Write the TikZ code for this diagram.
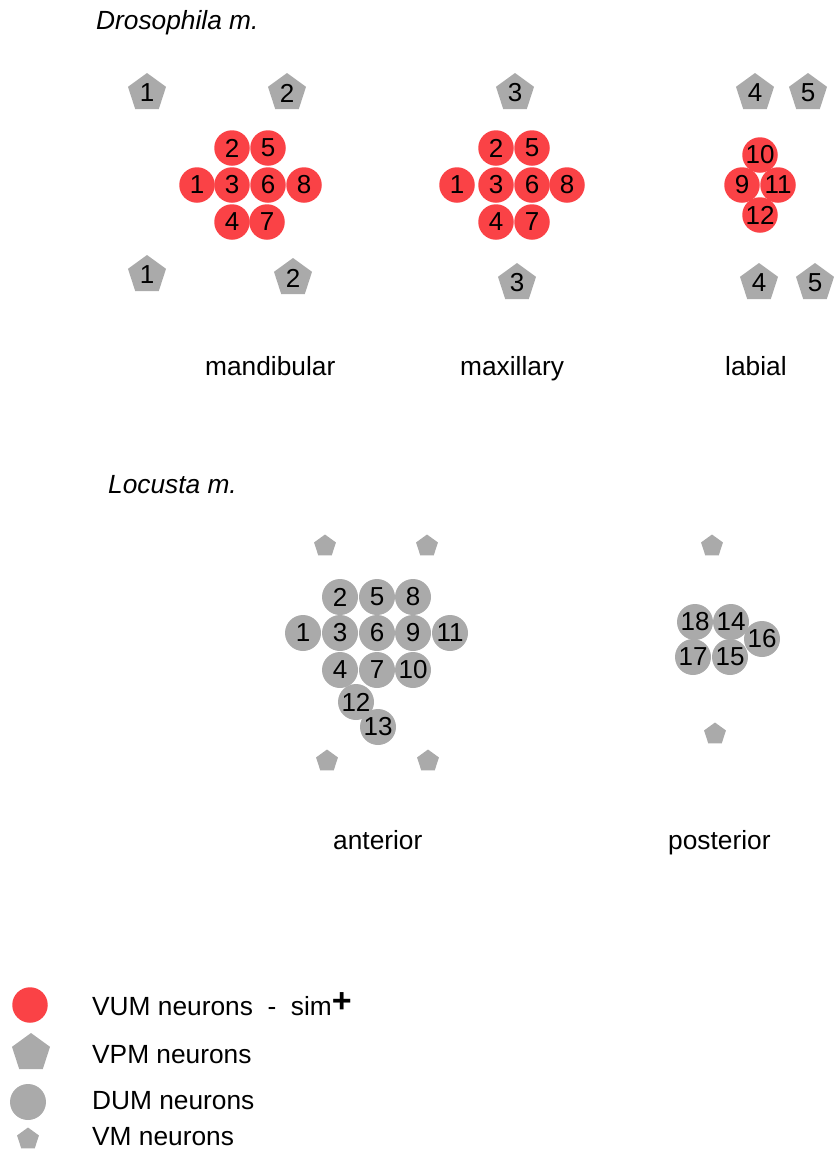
\documentclass[tikz,border=0pt]{standalone}
\usepackage{fontspec}
\setmainfont{Liberation Sans}
\usetikzlibrary{shapes.geometric}
\definecolor{vumred}{RGB}{250,66,70}
\definecolor{neurgrey}{RGB}{170,170,170}
\newcommand{\numfont}{\fontsize{26}{31}\selectfont}
\newcommand{\labfont}{\fontsize{26.3}{31}\selectfont}
\tikzset{
  vum/.style={circle, fill=vumred, minimum size=35.5pt, inner sep=0pt, font=\numfont},
  dum/.style={circle, fill=neurgrey, minimum size=36pt, inner sep=0pt, font=\numfont},
  vpm/.style={regular polygon, regular polygon sides=5, fill=neurgrey, minimum size=40pt, inner sep=0pt, font=\numfont},
  vm/.style={regular polygon, regular polygon sides=5, fill=neurgrey, minimum size=23pt, inner sep=0pt},
  lab/.style={anchor=base west, inner sep=0pt, font=\labfont},
}
\begin{document}
\begin{tikzpicture}[x=1pt, y=-1pt]
\useasboundingbox (0,0) rectangle (833,1149);
% ---- Drosophila ----
\node[lab] (tdros) at (96,29) {\itshape Drosophila m.};
% mandibular
\node[vpm] (mdpa1) at (147,93) {1};
\node[vpm] (mdpa2) at (287,93) {2};
\node[vum] (md1) at (197,185) {1};
\node[vum] (md2) at (232,148) {2};
\node[vum] (md3) at (232,185) {3};
\node[vum] (md4) at (232,222) {4};
\node[vum] (md5) at (268,148) {5};
\node[vum] (md6) at (268,185) {6};
\node[vum] (md7) at (267,222) {7};
\node[vum] (md8) at (304,185) {8};
\node[vpm] (mdpb1) at (147,275) {1};
\node[vpm] (mdpb2) at (293,278) {2};
\node[lab] (lmand) at (205,375) {mandibular};
% maxillary
\node[vpm] (mxpa3) at (515,93) {3};
\node[vum] (mx1) at (457,185) {1};
\node[vum] (mx2) at (496,148) {2};
\node[vum] (mx3) at (496,185) {3};
\node[vum] (mx4) at (496,222) {4};
\node[vum] (mx5) at (532,148) {5};
\node[vum] (mx6) at (532,185) {6};
\node[vum] (mx7) at (532,222) {7};
\node[vum] (mx8) at (567,185) {8};
\node[vpm] (mxpb3) at (517,283) {3};
\node[lab] (lmax) at (460,375) {maxillary};
% labial
\node[vpm] (lbpa4) at (755,93) {4};
\node[vpm] (lbpa5) at (808,93) {5};
\node[vum] (lb10) at (760,155) {10};
\node[vum] (lb9) at (742,185) {9};
\node[vum] (lb11) at (778,185) {11};
\node[vum] (lb12) at (760,215) {12};
\node[vpm] (lbpb4) at (759,283) {4};
\node[vpm] (lbpb5) at (815,283) {5};
\node[lab] (llab) at (725,375) {labial};
% ---- Locusta ----
\node[lab] (tloc) at (108,493) {\itshape Locusta m.};
% anterior
\node[vm] (anva) at (325,546) {};
\node[vm] (anvb) at (427,546) {};
\node[dum] (an2) at (340,597) {2};
\node[dum] (an5) at (377,597) {5};
\node[dum] (an8) at (413,597) {8};
\node[dum] (an1) at (303,633) {1};
\node[dum] (an3) at (340,633) {3};
\node[dum] (an6) at (377,633) {6};
\node[dum] (an9) at (413,633) {9};
\node[dum] (an11) at (450,633) {11};
\node[dum] (an4) at (340,670) {4};
\node[dum] (an7) at (377,670) {7};
\node[dum] (an10) at (413,670) {10};
\node[dum] (an12) at (356,702) {12};
\node[dum] (an13) at (378,727) {13};
\node[vm] (anvc) at (327,761) {};
\node[vm] (anvd) at (428,761) {};
\node[lab] (lant) at (333,849) {anterior};
% posterior
\node[vm] (psva) at (712,546) {};
\node[dum] (ps18) at (695,622) {18};
\node[dum] (ps14) at (731,622) {14};
\node[dum] (ps16) at (762,639) {16};
\node[dum] (ps17) at (693,657) {17};
\node[dum] (ps15) at (730,657) {15};
\node[vm] (psvb) at (715,734) {};
\node[lab] (lpost) at (668,849) {posterior};
% ---- Legend ----
\node[vum] (lgvum) at (30,1005) {};
\node[lab] (tvum) at (92,1015) {VUM neurons\ \ -\ \ sim\raisebox{3pt}{\fontsize{34}{34}\selectfont\textbf{+}}};
\node[vpm] (lgvpm) at (31,1053) {};
\node[lab] (tvpm) at (92,1063) {VPM neurons};
\node[dum] (lgdum) at (28,1102) {};
\node[lab] (tdum) at (92,1109) {DUM neurons};
\node[vm] (lgvm) at (28,1139) {};
\node[lab] (tvm) at (92,1145) {VM neurons};
\end{tikzpicture}
\end{document}
